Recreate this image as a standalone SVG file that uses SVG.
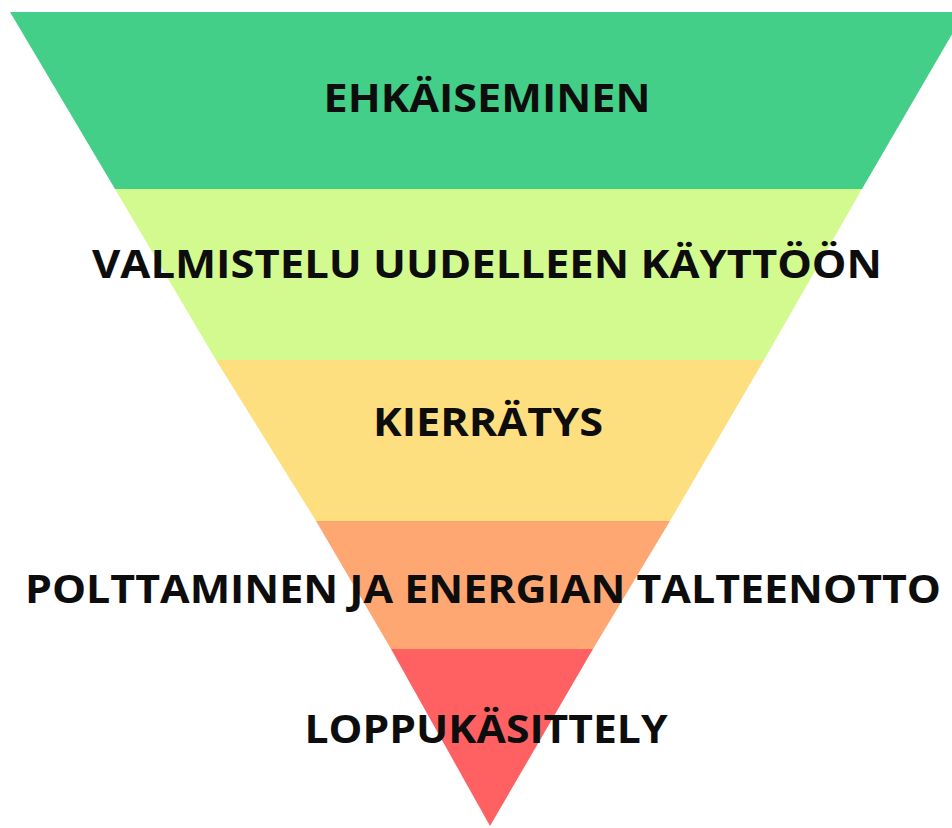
<svg xmlns="http://www.w3.org/2000/svg" width="952" height="828" viewBox="0 0 952 828">
<style>
.lbl{font-family:"Open Sans","Noto Sans","DejaVu Sans",sans-serif;font-weight:700;font-size:40px;fill:#0d0d0d;text-anchor:middle}
</style>
<rect width="952" height="828" fill="#ffffff"/>
<g id="band1"><polygon points="10,12 965,12 862,189 115,189" fill="#43CF88"/></g>
<g id="band2"><polygon points="115,189 862,189 764,360 216,360" fill="#D3FA8E"/></g>
<g id="band3"><polygon points="216,360 764,360 670,521 316,521" fill="#FEDF7F"/></g>
<g id="band4"><polygon points="316,521 670,521 593,649 391,649" fill="#FFA773"/></g>
<g id="band5"><polygon points="391,649 593,649 490,826" fill="#FF6163"/></g>
<g id="labels">
<text class="lbl" x="487" y="112" textLength="327" lengthAdjust="spacingAndGlyphs">EHKÄISEMINEN</text>
<text class="lbl" x="487" y="278" textLength="790" lengthAdjust="spacingAndGlyphs">VALMISTELU UUDELLEEN KÄYTTÖÖN</text>
<text class="lbl" x="488" y="436" textLength="230" lengthAdjust="spacingAndGlyphs">KIERRÄTYS</text>
<text class="lbl" x="483" y="603" textLength="916" lengthAdjust="spacingAndGlyphs">POLTTAMINEN JA ENERGIAN TALTEENOTTO</text>
<text class="lbl" x="486" y="743" textLength="363" lengthAdjust="spacingAndGlyphs">LOPPUKÄSITTELY</text>
</g>
</svg>
